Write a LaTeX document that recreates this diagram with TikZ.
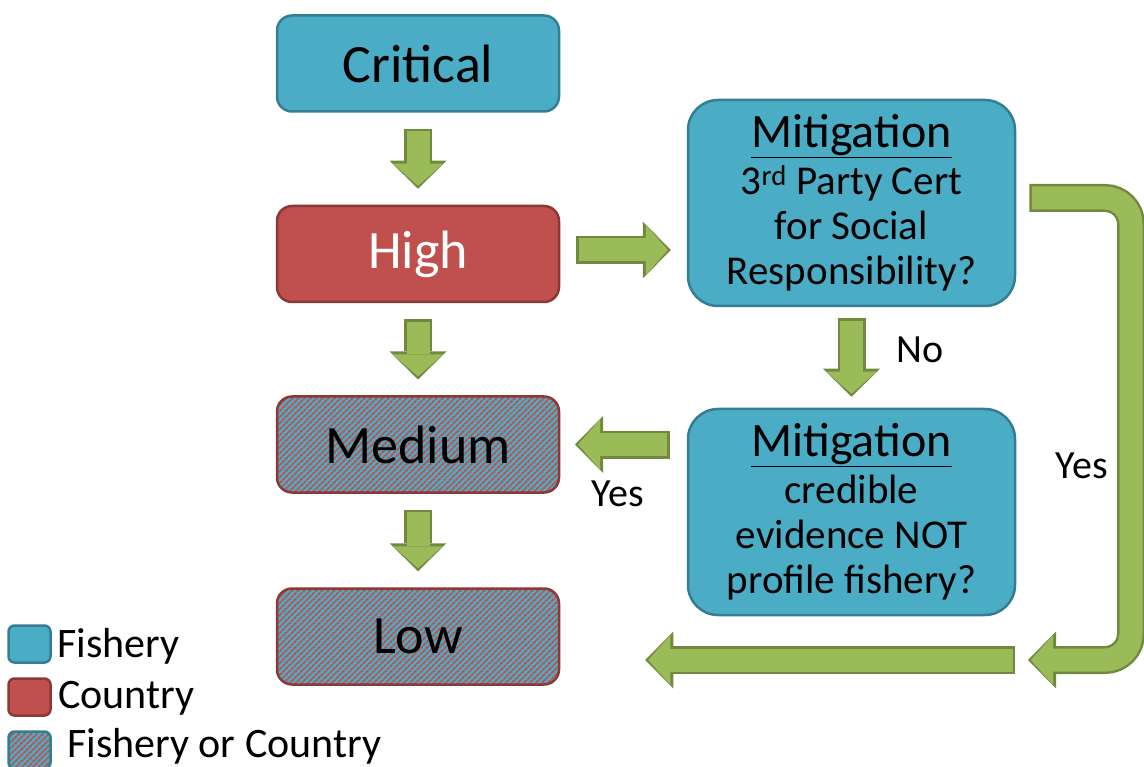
\documentclass[tikz,border=0pt]{standalone}
\usepackage{fontspec}
\setmainfont{Carlito}
\usepackage{tikz}
\usetikzlibrary{arrows.meta,calc,patterns.meta,positioning}

\definecolor{fishfill}{HTML}{4BACC6}
\definecolor{fishline}{HTML}{357D91}
\definecolor{ctryfill}{HTML}{C0504D}
\definecolor{ctryline}{HTML}{8C3836}
\definecolor{arrfill}{HTML}{9BBB59}
\definecolor{arrline}{HTML}{71893F}

\tikzset{
  level/.style={rounded corners=15pt, line width=2.5pt, minimum width=282pt,
    minimum height=96pt, inner sep=0pt, font=\fontsize{54}{60}\selectfont},
  fishery/.style={fill=fishfill, draw=fishline},
  country/.style={fill=ctryfill, draw=ctryline},
  either/.style={preaction={fill=fishfill},
    pattern={Lines[angle=45,distance=4pt,line width=2pt]}, pattern color=ctryfill},
  question/.style={fishery, rounded corners=30pt, line width=2.5pt,
    minimum width=327pt, minimum height=206pt, inner sep=0pt, align=center,
    font=\fontsize{41}{45}\selectfont},
  fat/.style={draw=arrfill, line width=23pt, shorten >=3pt, shorten <=2.5pt,
    -{Triangle[length=22pt,width=50pt,line width=0pt]},
    preaction={draw=arrline, line width=28pt, shorten >=0pt, shorten <=0pt,
      -{Triangle[length=28pt,width=57pt,line width=0pt]}}},
  key/.style={rounded corners=6pt, line width=2.5pt, minimum width=42pt,
    minimum height=37pt, inner sep=0pt},
  lbl/.style={font=\fontsize{40}{44}\selectfont, inner sep=0pt}
}

\begin{document}
\begin{tikzpicture}[x=1pt,y=-1pt]
  \useasboundingbox (0,0) rectangle (1144,767);
  % risk levels
  \node[level,fishery] (crit) at (418,63.5) {Critical};
  \node[level,country,text=white] (high) at (418,254) {High};
  \node[level,either,draw=ctryline] (med) at (418,444.5) {Medium};
  \node[level,either,draw=ctryline] (low) at (418,636.5) {Low};
  % mitigation questions
  \node[question] (mit1) at (851.5,203)
    {{\fontsize{48}{45}\selectfont\underline{Mitigation}}\\[2pt]
     3\textsuperscript{rd} Party Cert\\for Social\\Responsibility?};
  \node[question] (mit2) at (851.5,512)
    {{\fontsize{48}{45}\selectfont\underline{Mitigation}}\\[2pt]
     credible\\evidence NOT\\profile fishery?};
  % level arrows
  \draw[fat] ($(crit.south)+(0,16)$) -- ($(high.north)+(0,-16)$);
  \draw[fat] ($(high.south)+(0,16)$) -- ($(med.north)+(0,-16)$);
  \draw[fat] ($(med.south)+(0,16)$) -- ($(low.north)+(0,-16)$);
  \draw[fat] ($(high.east)+(16,-4)$) -- ($(mit1.west |- high.east)+(-16,-4)$);
  \draw[fat] ($(mit1.south)+(0,11)$) -- ($(mit2.north)+(0,-11)$);
  \draw[fat] ($(mit2.west |- med.east)+(-17,0)$) -- ($(med.east)+(15,0)$);
  % yes loop
  \coordinate (rim) at (1131,660);
  \coordinate (loopend) at (1028,660);
  \coordinate (back) at (1015,660);
  \draw[fat, rounded corners=26pt] ($(mit1.east)+(13,-5)$) -| (rim) -- (loopend);
  \draw[fat] (back) -- ($(low.east |- back)+(85,0)$);
  % labels
  \node[lbl] (no) at (920,350) {No};
  \node[lbl] (yes1) at (618,494) {Yes};
  \node[lbl] (yes2) at (1082,466) {Yes};
  % legend
  \node[key,fishery] (k1) at (29.5,644) {};
  \node[key,country] (k2) at (29.5,697) {};
  \node[key,either,draw=fishline] (k3) at (29.5,750) {};
  \node[lbl,font=\fontsize{42}{44}\selectfont,anchor=base west] (t1) at (57,657) {Fishery};
  \node[lbl,font=\fontsize{42}{44}\selectfont,anchor=base west] (t2) at (58,708) {Country};
  \node[lbl,font=\fontsize{42}{44}\selectfont,anchor=base west] (t3) at (67,757) {Fishery or Country};
\end{tikzpicture}
\end{document}
